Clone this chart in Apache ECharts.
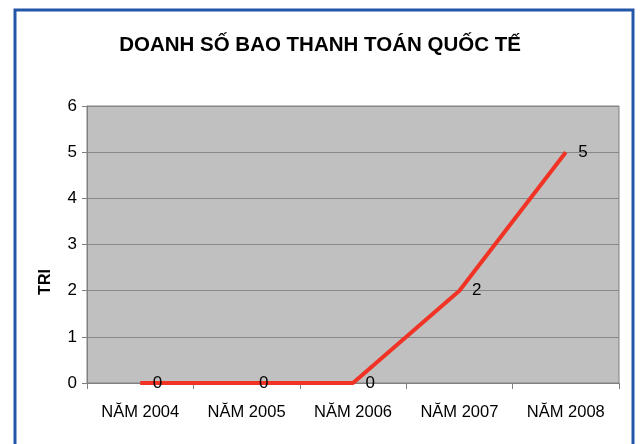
<!DOCTYPE html>
<html><head><meta charset="utf-8">
<script src="https://cdn.jsdelivr.net/npm/echarts@6/dist/echarts.min.js"></script>
<style>html,body{margin:0;padding:0;background:#fff}#c{width:640px;height:444px}</style>
</head><body><div id="c"></div>
<script>
var categories = ['NĂM 2004','NĂM 2005','NĂM 2006','NĂM 2007','NĂM 2008'];
var values = [0, 0, 0, 2, 5];
var yTicks = [0,1,2,3,4,5,6];
var titleText = 'DOANH SỐ BAO THANH TOÁN QUỐC TẾ';
var yName = 'TRI';

var chart = echarts.init(document.getElementById('c'), null, {renderer:'canvas'});
chart.setOption({
  animation:false,
  backgroundColor:'#fff',
  title:{text:titleText,left:'center',top:30,textStyle:{fontFamily:'Liberation Sans',fontWeight:'bold',fontSize:20.5,color:'#000'}},
  grid:{left:87,right:21,top:106,bottom:61,show:true,backgroundColor:'#c0c0c0',borderColor:'#808080',borderWidth:1},
  graphic:[
    {type:'rect',shape:{x:15,y:10,width:618,height:460},style:{fill:null,stroke:'#2356a8',lineWidth:3},silent:true,z:100},
    {type:'text',x:46,y:282,rotation:Math.PI/2,style:{text:yName,font:'bold 16px "Liberation Sans"',fill:'#000',align:'center',verticalAlign:'middle'}}
  ],
  xAxis:{type:'category',data:categories,boundaryGap:true,
    axisLine:{lineStyle:{color:'#808080',width:1}},
    axisTick:{show:true,length:6,lineStyle:{color:'#808080'}},
    axisLabel:{fontFamily:'Liberation Sans',fontSize:16.5,color:'#000',margin:21},
    splitLine:{show:false}},
  yAxis:{type:'value',min:yTicks[0],max:yTicks[yTicks.length-1],interval:1,
    axisLine:{show:true,lineStyle:{color:'#808080'}},
    axisTick:{show:true,length:5,lineStyle:{color:'#808080'}},
    axisLabel:{fontFamily:'Liberation Sans',fontSize:17,color:'#000',margin:10},
    splitLine:{show:true,lineStyle:{color:'#888888',width:1}}},
  series:[{type:'line',data:values,showSymbol:true,symbol:'circle',symbolSize:1,
    itemStyle:{color:'rgba(0,0,0,0)'},
    lineStyle:{color:'#f03324',width:4},
    label:{show:true,position:'right',distance:12,fontFamily:'Liberation Sans',fontSize:17,color:'#000'}}]
});
</script></body></html>
